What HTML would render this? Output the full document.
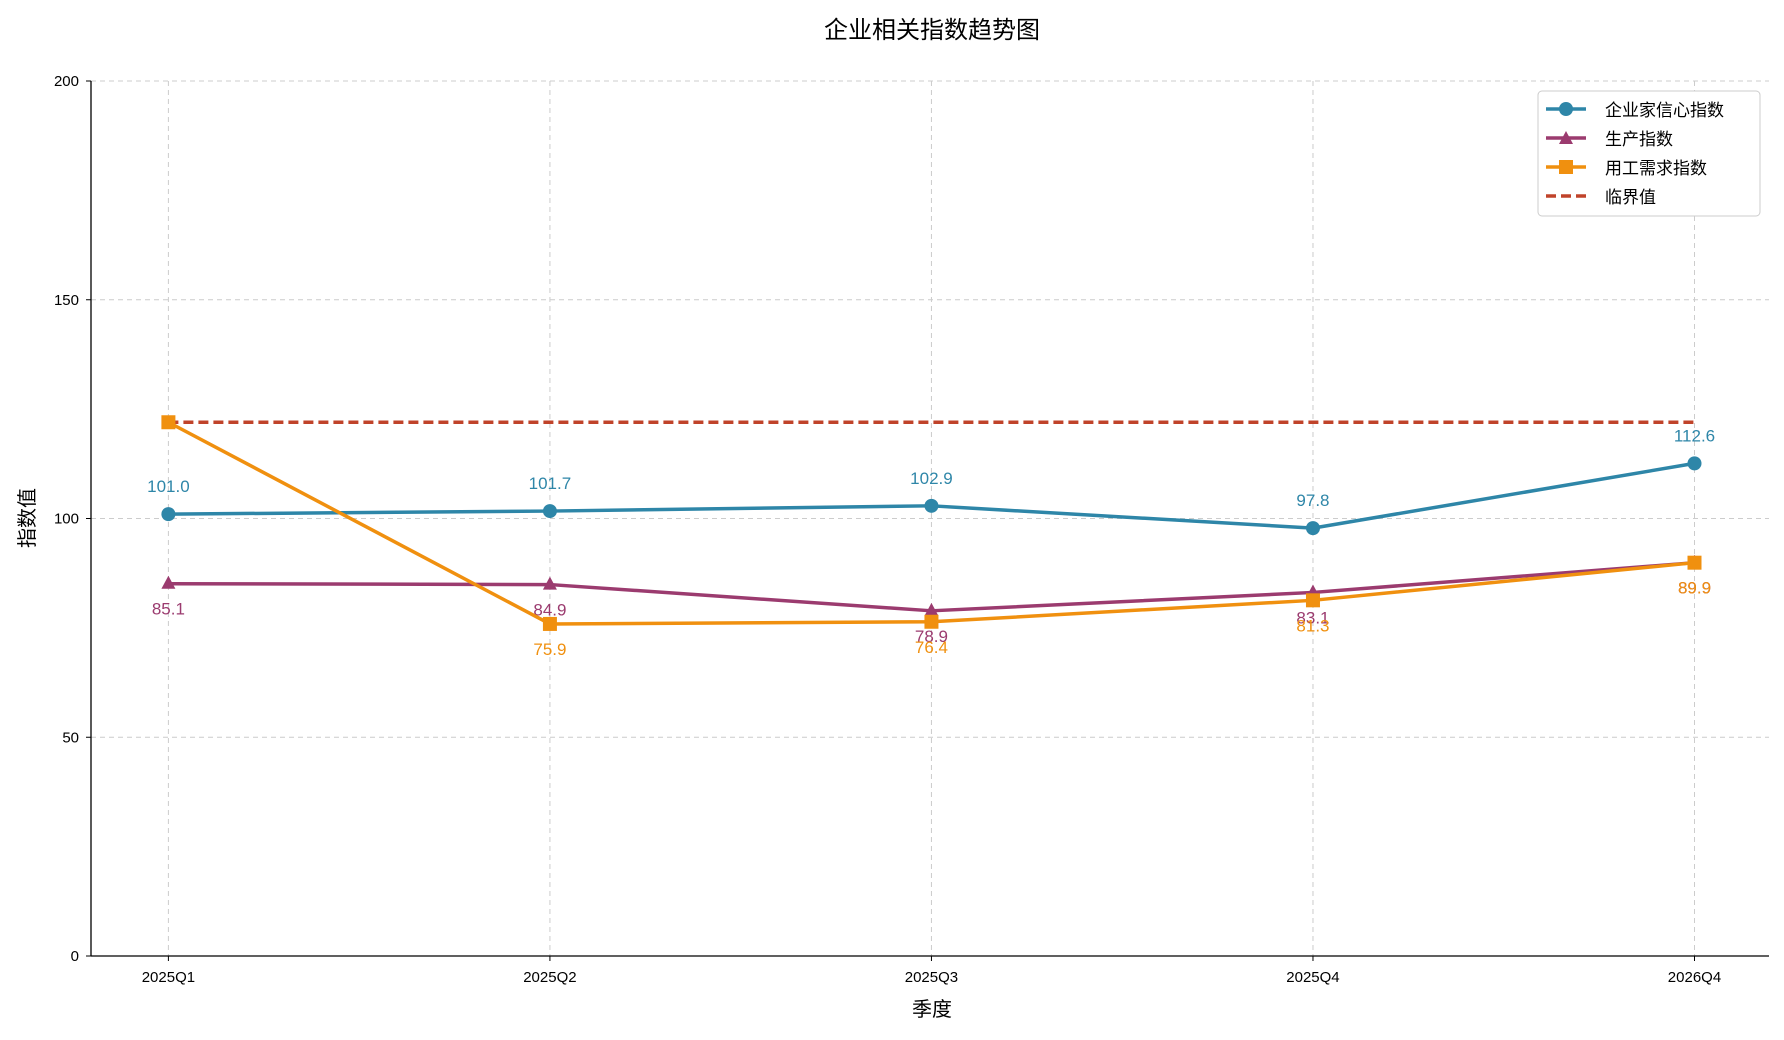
<!DOCTYPE html>
<html><head><meta charset="utf-8"><style>
body{margin:0;background:#fff;}
svg text{font-family:"Liberation Sans","Noto Sans CJK SC",sans-serif;}
</style></head><body>
<svg id="chart" width="1784" height="1035" xmlns="http://www.w3.org/2000/svg">
<text x="932" y="38" font-size="24" text-anchor="middle" fill="#000">企业相关指数趋势图</text>
<g id="grid"></g>
<g id="axes"></g>
<g id="series"></g>
<text x="932" y="1016" font-size="20" text-anchor="middle">季度</text>
<text transform="translate(34,518) rotate(-90)" font-size="20" text-anchor="middle">指数值</text>
<g>
<rect x="1538" y="91" width="222" height="125" rx="4" fill="#fff" stroke="#ccc"/>
<g><line x1="1546" y1="109" x2="1586" y2="109" stroke="#2e86a8" stroke-width="3.5"/><circle cx="1566" cy="109" r="7" fill="#2e86a8"/><text x="1605" y="116" font-size="17">企业家信心指数</text></g>
<g><line x1="1546" y1="138" x2="1586" y2="138" stroke="#9b3b6f" stroke-width="3.5"/><path d="M1566,131 L1573,144 L1559,144 Z" fill="#9b3b6f"/><text x="1605" y="145" font-size="17">生产指数</text></g>
<g><line x1="1546" y1="167" x2="1586" y2="167" stroke="#f0900f" stroke-width="3.5"/><rect x="1559" y="160" width="14" height="14" fill="#f0900f"/><text x="1605" y="174" font-size="17">用工需求指数</text></g>
<g><line x1="1546" y1="196" x2="1586" y2="196" stroke="#c0432a" stroke-width="3.5" stroke-dasharray="10,5"/><text x="1605" y="203" font-size="17">临界值</text></g>
</g>
</svg>
<script>
const categories=["2025Q1","2025Q2","2025Q3","2025Q4","2026Q4"];
const confidence=[101.0,101.7,102.9,97.8,112.6];
const production=[85.1,84.9,78.9,83.1,89.9];
const employment=[122.0,75.9,76.4,81.3,89.9];
const threshold=122.0;
const yTicks=[0,50,100,150,200];
const NS="http://www.w3.org/2000/svg";
const L=91,R=1769,T=81,B=956;
const x=i=>168.4+i*(1694.5-168.4)/(categories.length-1);
const y=v=>B-(v-0)/(200-0)*(B-T);
function mk(tag,attrs,parent){const e=document.createElementNS(NS,tag);for(const k in attrs)e.setAttribute(k,attrs[k]);parent.appendChild(e);return e;}
const grid=document.getElementById('grid'),axes=document.getElementById('axes'),ser=document.getElementById('series');
yTicks.forEach(t=>{
 if(t>0){const g=mk('line',{x1:L,x2:R,y1:y(t),y2:y(t),stroke:'#ccc','stroke-dasharray':'5,4'},grid);
 
 }
 const tx=mk('text',{x:L-12,y:y(t)+5,'font-size':15,'text-anchor':'end'},axes);tx.textContent=t;
 
 
 mk('line',{x1:L-5,x2:L,y1:y(t),y2:y(t),stroke:'#000'},axes);
});
categories.forEach((c,i)=>{
 const g=mk('line',{x1:x(i),x2:x(i),y1:T,y2:B,stroke:'#ccc','stroke-dasharray':'5,4'},grid);
 
 
 mk('line',{x1:x(i),x2:x(i),y1:B,y2:B+5,stroke:'#000'},axes);
 const tx=mk('text',{x:x(i),y:B+26,'font-size':15,'text-anchor':'middle'},axes);tx.textContent=c;
 
 
});
mk('line',{x1:L,x2:L,y1:T,y2:B,stroke:'#000','stroke-width':1.3},axes);
mk('line',{x1:L,x2:R,y1:B,y2:B,stroke:'#000','stroke-width':1.3},axes);
const th=mk('line',{x1:x(0),x2:x(categories.length-1),y1:y(threshold),y2:y(threshold),stroke:'#c0432a','stroke-width':3.5,'stroke-dasharray':'10,5'},ser);


function draw(vals,color,marker,name,labelOff,skipLabel){
 const pl=mk('polyline',{points:vals.map((v,i)=>x(i)+','+y(v)).join(' '),fill:'none',stroke:color,'stroke-width':3.5,'stroke-linejoin':'round'},ser);
 
 
 vals.forEach((v,i)=>{
  const cx=x(i),cy=y(v);let m;
  if(marker==='c')m=mk('circle',{cx,cy,r:7,fill:color},ser);
  else if(marker==='t')m=mk('path',{d:`M${cx},${cy-8} L${cx+7},${cy+5} L${cx-7},${cy+5} Z`,fill:color},ser);
  else m=mk('rect',{x:cx-7,y:cy-7,width:14,height:14,fill:color},ser);
  
  
  if(skipLabel&&skipLabel(i))return;
  const t=mk('text',{x:cx,y:cy+labelOff,'font-size':17,'text-anchor':'middle',fill:color},ser);t.textContent=v.toFixed(1);
  
  
 });
}
draw(confidence,'#2e86a8','c','confidence',-22);
draw(production,'#9b3b6f','t','production',31);
draw(employment,'#f0900f','s','employment',31,i=>i===0);
</script>
</body></html>
